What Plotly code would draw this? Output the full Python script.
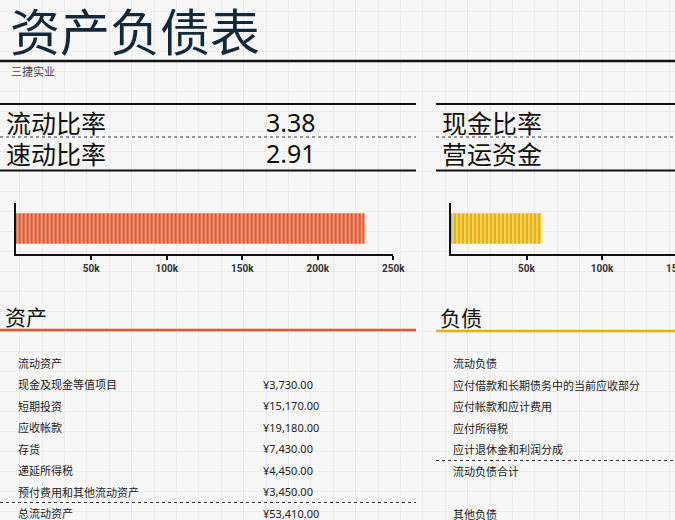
import plotly.graph_objects as go

# --- data -----------------------------------------------------------------
title_text = "资产负债表"
company = "三捷实业"

ratio_names_left = ["流动比率", "速动比率"]
ratio_values_left = ["3.38", "2.91"]
ratio_names_right = ["现金比率", "营运资金"]

bar_total_assets = [231000]
bar_working_capital = [60000]
axis_ticks = [50000, 100000, 150000, 200000, 250000]

asset_header = "资产"
asset_items = ["流动资产", "现金及现金等值项目", "短期投资", "应收帐款", "存货",
               "递延所得税", "预付费用和其他流动资产", "总流动资产"]
asset_values = ["", "¥3,730.00", "¥15,170.00", "¥19,180.00", "¥7,430.00",
                "¥4,450.00", "¥3,450.00", "¥53,410.00"]

liab_header = "负债"
liab_items = ["流动负债", "应付借款和长期债务中的当前应收部分", "应付帐款和应计费用",
              "应付所得税", "应计退休金和利润分成", "流动负债合计", "", "其他负债"]

# --- helpers --------------------------------------------------------------
W, H = 675, 520          # sheet units (pixels of the target picture)
FIG_W = 687              # page is squeezed to the window width when shot
BG = "#f7f7f7"
ORANGE = "#e2572a"
YELLOW = "#e8b400"
CJK = "Noto Sans CJK SC"


def px(x):
    return x / W


def py(y):
    return 1 - y / H


annotations = []
shapes = []


def label(x, y, text, size, color="#1a1a1a", family=CJK):
    annotations.append(dict(x=px(x), y=py(y), xref="paper", yref="paper", text=text,
                            showarrow=False, xanchor="left", yanchor="middle",
                            font=dict(size=size, color=color, family=family)))


def hline(y, x0, x1, width=2, color="#111111", dash=None):
    shapes.append(dict(type="line", xref="paper", yref="paper", x0=px(x0), x1=px(x1),
                       y0=py(y), y1=py(y), line=dict(color=color, width=width, dash=dash)))


fig = go.Figure()

# background grid (spreadsheet cells) on the first axes so it stays underneath
fig.add_trace(go.Scatter(x=[None], y=[None], xaxis="x", yaxis="y", showlegend=False))

# striped bars: coloured fill with thin light gaps
stripes = dict(shape="|", fgcolor=BG, size=4, solidity=0.42)
fig.add_trace(go.Bar(x=bar_total_assets, y=[""], orientation="h", width=0.6,
                     xaxis="x2", yaxis="y2", showlegend=False,
                     marker=dict(color=ORANGE, line=dict(width=0),
                                 pattern=dict(stripes, bgcolor=ORANGE))))
fig.add_trace(go.Bar(x=bar_working_capital, y=[""], orientation="h", width=0.6,
                     xaxis="x3", yaxis="y3", showlegend=False,
                     marker=dict(color=YELLOW, line=dict(width=0),
                                 pattern=dict(stripes, bgcolor=YELLOW))))

# header
label(8, 29, title_text, 50, color="#12293a")
hline(61, 0, 675, width=2.5)
label(9, 71.5, company, 11, color="#444444")

# ratio block
hline(104, 0, 416)
hline(104, 436, 675)
hline(137, 0, 416, width=1, color="#333333", dash="dot")
hline(137, 436, 675, width=1, color="#333333", dash="dot")
hline(170.5, 0, 416)
hline(170.5, 436, 675)
ratio_rows = [121.7, 152.5]
for yy, name, val in zip(ratio_rows, ratio_names_left, ratio_values_left):
    label(4, yy, name, 25, color="#111111")
    label(264, yy, val, 25, color="#111111", family="Noto Sans")
for yy, name in zip(ratio_rows, ratio_names_right):
    label(440, yy, name, 25, color="#111111")

# section headers
label(3, 315.5, asset_header, 21, color="#111111")
hline(330, 0, 416, width=2.5, color=ORANGE)
label(438, 316.5, liab_header, 21, color="#111111")
hline(331, 436, 675, width=2.5, color=YELLOW)

# item rows
row_y0, row_step = 362.5, 21.5
for i, (name, val) in enumerate(zip(asset_items, asset_values)):
    yy = row_y0 + 0.2 + i * row_step
    label(15.5, yy, name, 11, color="#222222")
    if val:
        label(261, yy, val, 11, color="#222222", family="Noto Sans")
hline(502.5, 0, 416, width=1, color="#333333", dash="dot")

for i, name in enumerate(liab_items):
    if name:
        yy = row_y0 + 0.5 + i * row_step
        label(451, yy, name, 11, color="#222222")
hline(460.5, 436, 675, width=1, color="#333333", dash="dot")

# axis scale shared by both bar charts (sheet px per unit)
scale = (393.3 - 15.7) / 250000
right_max = (675 - 451) / scale
tick_font = dict(family="Roboto", size=10, color="#333333", weight=700)
bar_axis = dict(showline=True, linecolor="#111111", linewidth=2, ticks="outside",
                ticklen=4, tickwidth=2, tickcolor="#111111", tickvals=axis_ticks,
                tickformat="~s", showgrid=False, zeroline=False, tickfont=tick_font)
bar_yaxis = dict(showline=True, linecolor="#111111", linewidth=2, range=[-0.5, 0.5],
                 showticklabels=False, ticks="", showgrid=False, zeroline=False,
                 domain=[py(254), py(203)])

# partial 150k tick label of the right chart, cut off by the page edge
annotations.append(dict(x=px(451 + 150000 * scale), y=py(268), xref="paper", yref="paper",
                        text="150k", showarrow=False, xanchor="center", yanchor="middle",
                        font=tick_font))

fig.update_layout(
    width=FIG_W, height=H, autosize=False, margin=dict(l=0, r=0, t=0, b=0),
    paper_bgcolor=BG, plot_bgcolor="rgba(0,0,0,0)",
    xaxis=dict(domain=[0, 1], range=[0, W], showgrid=True, gridcolor="#ebebeb",
               gridwidth=1, dtick=22.4, tick0=19.6, showticklabels=False,
               zeroline=False, ticks="", fixedrange=True),
    yaxis=dict(domain=[0, 1], range=[H, 0], showgrid=True, gridcolor="#ebebeb",
               gridwidth=1, dtick=20, tick0=11.7, showticklabels=False,
               zeroline=False, ticks="", fixedrange=True),
    xaxis2=dict(bar_axis, domain=[px(15.7), px(393.3)], range=[0, 250000], anchor="y2"),
    yaxis2=dict(bar_yaxis, anchor="x2"),
    xaxis3=dict(bar_axis, domain=[px(451), 1], range=[0, right_max], anchor="y3"),
    yaxis3=dict(bar_yaxis, anchor="x3"),
    annotations=annotations, shapes=shapes, showlegend=False,
)

# drop the browser's default page margin so the sheet fills the window
fix_page = (
    "document.body.style.margin='0';"
    "document.documentElement.style.overflow='hidden';"
    "document.body.style.overflow='hidden';"
)
fig.write_html("out.html", post_script=fix_page,
               config={"displayModeBar": False, "responsive": False})
